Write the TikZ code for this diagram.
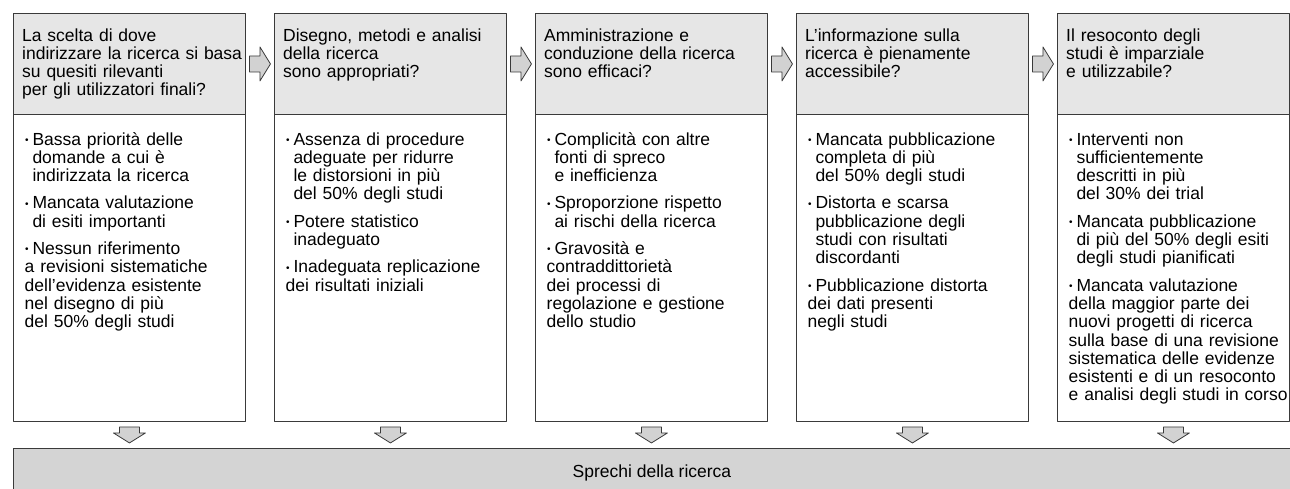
\documentclass[tikz,border=0pt]{standalone}
\usepackage{fontspec}
\setmainfont{Liberation Sans}
\usetikzlibrary{positioning,calc}

\definecolor{linegray}{HTML}{3A3A3A}
\definecolor{headgray}{HTML}{E6E6E6}
\definecolor{bargray}{HTML}{D4D4D4}
\definecolor{arrowgray}{HTML}{D2D2D2}

\newcommand{\itm}{\hangindent=7.8pt\hangafter=1\noindent\makebox[7.8pt][l]{\kern0.5pt\raisebox{1.8pt}{\fontsize{10}{10}\selectfont\textbullet}}}

\tikzset{
  headbox/.style={draw=linegray,fill=headgray,line width=0.9pt,minimum width=232pt,minimum height=101pt,inner sep=0pt,anchor=north west},
  bodybox/.style={draw=linegray,fill=white,line width=0.9pt,minimum width=232pt,minimum height=307pt,inner sep=0pt,anchor=north west},
  barbox/.style={draw=linegray,fill=bargray,line width=0.9pt,minimum width=1277pt,minimum height=50pt,inner sep=0pt,anchor=north west,font=\fontsize{17.5}{18.3}\selectfont},
  headtext/.style={anchor=base west,inner sep=0pt,text width=222pt,align=left,font=\fontsize{17.5}{18.3}\selectfont},
  bodytext/.style={anchor=base west,inner sep=0pt,text width=228pt,align=left,font=\fontsize{17.5}{18.3}\selectfont,execute at begin node={\setlength{\parskip}{9pt}}},
  arrowline/.style={draw=linegray,fill=arrowgray,line width=0.8pt},
  rightarrow/.pic={\draw[arrowline] (-10.5,-8) -- (0,-8) -- (0,-17) -- (10.5,0) -- (0,17) -- (0,8) -- (-10.5,8) -- cycle;},
  downarrow/.pic={\draw[arrowline] (-10,-8) -- (10,-8) -- (10,-2) -- (16,-2) -- (0,8) -- (-16,-2) -- (-10,-2) -- cycle;}
}

\begin{document}
\begin{tikzpicture}[x=1pt,y=-1pt,line cap=round,line join=round]
\useasboundingbox (0,0) rectangle (1290,488);

\node[headbox] (h1) at (13,13) {};
\node[headbox] (h2) at (274,13) {};
\node[headbox] (h3) at (535,13) {};
\node[headbox] (h4) at (796,13) {};
\node[headbox] (h5) at (1057,13) {};
\node[bodybox] (b1) at (13,114) {};
\node[bodybox] (b2) at (274,114) {};
\node[bodybox] (b3) at (535,114) {};
\node[bodybox] (b4) at (796,114) {};
\node[bodybox] (b5) at (1057,114) {};
\node[barbox] (bar) at (13,448) {Sprechi della ricerca};

\node[headtext] (ht1) at ([xshift=9pt,yshift=-28pt]h1.north west)
  {La scelta di dove\\indirizzare la ricerca si basa\\su quesiti rilevanti\\per gli utilizzatori finali?};
\node[headtext] (ht2) at ([xshift=9pt,yshift=-28pt]h2.north west)
  {Disegno, metodi e analisi\\della ricerca\\sono appropriati?};
\node[headtext] (ht3) at ([xshift=9pt,yshift=-28pt]h3.north west)
  {Amministrazione e\\conduzione della ricerca\\sono efficaci?};
\node[headtext] (ht4) at ([xshift=9pt,yshift=-28pt]h4.north west)
  {L’informazione sulla\\ricerca è pienamente\\accessibile?};
\node[headtext] (ht5) at ([xshift=9pt,yshift=-28pt]h5.north west)
  {Il resoconto degli\\studi è imparziale\\e utilizzabile?};

\node[bodytext] (bt1) at ([xshift=11.5pt,yshift=-31pt]b1.north west)
  {\itm Bassa priorità delle\newline domande a cui è\newline indirizzata la ricerca
   \par\itm Mancata valutazione\newline di esiti importanti
   \par\itm Nessun riferimento\newline a revisioni sistematiche\newline dell’evidenza esistente\newline nel disegno di più\newline del 50\% degli studi};
\node[bodytext] (bt2) at ([xshift=11.5pt,yshift=-31pt]b2.north west)
  {\itm Assenza di procedure\newline adeguate per ridurre\newline le distorsioni in più\newline del 50\% degli studi
   \par\itm Potere statistico\newline inadeguato
   \par\itm Inadeguata replicazione\newline dei risultati iniziali};
\node[bodytext] (bt3) at ([xshift=11.5pt,yshift=-31pt]b3.north west)
  {\itm Complicità con altre\newline fonti di spreco\newline e inefficienza
   \par\itm Sproporzione rispetto\newline ai rischi della ricerca
   \par\itm Gravosità e\newline contraddittorietà\newline dei processi di\newline regolazione e gestione\newline dello studio};
\node[bodytext] (bt4) at ([xshift=11.5pt,yshift=-31pt]b4.north west)
  {\itm Mancata pubblicazione\newline completa di più\newline del 50\% degli studi
   \par\itm Distorta e scarsa\newline pubblicazione degli\newline studi con risultati\newline discordanti
   \par\itm Pubblicazione distorta\newline dei dati presenti\newline negli studi};
\node[bodytext] (bt5) at ([xshift=11.5pt,yshift=-31pt]b5.north west)
  {\itm Interventi non\newline sufficientemente\newline descritti in più\newline del 30\% dei trial
   \par\itm Mancata pubblicazione\newline di più del 50\% degli esiti\newline degli studi pianificati
   \par\itm Mancata valutazione\newline della maggior parte dei\newline nuovi progetti di ricerca\newline sulla base di una revisione\newline sistematica delle evidenze\newline esistenti e di un resoconto\newline e analisi degli studi in corso};

% arrows between the steps
\pic (r1) at ($(h1.east)!0.5!(h2.west)$) {rightarrow};
\pic (r2) at ($(h2.east)!0.5!(h3.west)$) {rightarrow};
\pic (r3) at ($(h3.east)!0.5!(h4.west)$) {rightarrow};
\pic (r4) at ($(h4.east)!0.5!(h5.west)$) {rightarrow};
\pic (d1) at ($(b1.south)!0.5!(b1.south|-bar.north)$) {downarrow};
\pic (d2) at ($(b2.south)!0.5!(b2.south|-bar.north)$) {downarrow};
\pic (d3) at ($(b3.south)!0.5!(b3.south|-bar.north)$) {downarrow};
\pic (d4) at ($(b4.south)!0.5!(b4.south|-bar.north)$) {downarrow};
\pic (d5) at ($(b5.south)!0.5!(b5.south|-bar.north)$) {downarrow};
\end{tikzpicture}
\end{document}
